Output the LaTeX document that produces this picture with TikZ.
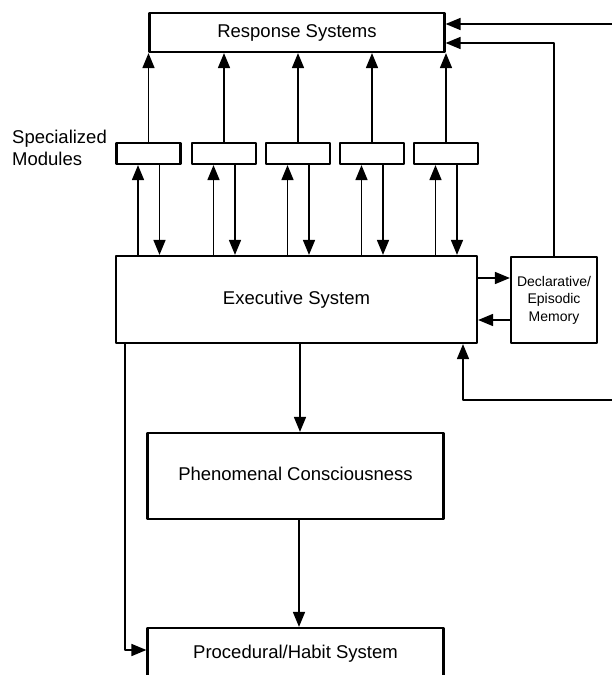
\documentclass[tikz,border=0pt]{standalone}
\usepackage{fontspec}
\setmainfont{Liberation Sans}
\usetikzlibrary{arrows.meta}

\tikzset{
  sysbox/.style={draw, line width=2.2pt, inner sep=0pt, text height=13pt, text depth=4pt,
    font=\fontsize{18.5}{22}\selectfont},
  declbox/.style={draw, line width=2.2pt, inner sep=0pt, align=center,
    font=\fontsize{14}{17.5}\selectfont},
  modbox/.style={draw, line width=2.2pt, minimum width=64pt, minimum height=21pt, inner sep=0pt},
  link/.style={line width=1.6pt, -{Triangle[length=15pt, width=12pt]}}
}

\begin{document}
\begin{tikzpicture}[line cap=round,line join=round, x=1pt,y=-1pt]
\useasboundingbox (0,0) rectangle (612,675);
\clip(0,0) rectangle (612,675);
% boxes
\node [sysbox, minimum width=295pt, minimum height=39pt] (resp) at (297,32.5) {Response Systems};
\node [modbox] (mod1) at (148.5,153.5) {};
\node [modbox] (mod2) at (224,153.5) {};
\node [modbox] (mod3) at (298,153.5) {};
\node [modbox] (mod4) at (372,153.5) {};
\node [modbox] (mod5) at (446,153.5) {};
\node [anchor=west, inner sep=0pt, align=left, font=\fontsize{18.5}{21.5}\selectfont] (modlabel) at (12,148) {Specialized\\Modules};
\node [sysbox, minimum width=361pt, minimum height=87pt] (exec) at (296.5,299.5) {Executive System};
\node [declbox, minimum width=86pt, minimum height=86pt] (decl) at (554,300) {Declarative/\\Episodic\\Memory};
\node [sysbox, minimum width=296pt, minimum height=86pt] (phen) at (295.5,476) {Phenomenal Consciousness};
\node [sysbox, minimum width=296pt, minimum height=52pt] (proc) at (295.5,654) {Procedural/Habit System};
\coordinate (inTop) at (612,24);
\coordinate (inLow) at (612,400);
% modules
\draw [link] (mod1.north) -- (mod1.north |- resp.south);
\draw [link] (mod2.north) -- (mod2.north |- resp.south);
\draw [link] (mod3.north) -- (mod3.north |- resp.south);
\draw [link] (mod4.north) -- (mod4.north |- resp.south);
\draw [link] (mod5.north) -- (mod5.north |- resp.south);
\draw [link] ([xshift=-10.5pt]mod1.south |- exec.north) -- ([xshift=-10.5pt]mod1.south);
\draw [link] ([xshift=-10.5pt]mod2.south |- exec.north) -- ([xshift=-10.5pt]mod2.south);
\draw [link] ([xshift=-10.5pt]mod3.south |- exec.north) -- ([xshift=-10.5pt]mod3.south);
\draw [link] ([xshift=-10.5pt]mod4.south |- exec.north) -- ([xshift=-10.5pt]mod4.south);
\draw [link] ([xshift=-10.5pt]mod5.south |- exec.north) -- ([xshift=-10.5pt]mod5.south);
\draw [link] ([xshift=11pt]mod1.south) -- ([xshift=11pt]mod1.south |- exec.north);
\draw [link] ([xshift=11pt]mod2.south) -- ([xshift=11pt]mod2.south |- exec.north);
\draw [link] ([xshift=11pt]mod3.south) -- ([xshift=11pt]mod3.south |- exec.north);
\draw [link] ([xshift=11pt]mod4.south) -- ([xshift=11pt]mod4.south |- exec.north);
\draw [link] ([xshift=11pt]mod5.south) -- ([xshift=11pt]mod5.south |- exec.north);
% memory
\draw [link] ([yshift=21.5pt]exec.east) -- ([yshift=21.5pt]exec.east -| decl.west);
\draw [link] ([yshift=-20.5pt]exec.east -| decl.west) -- ([yshift=-20.5pt]exec.east);
\draw [link] (decl.north) |- ([yshift=-10.5pt]resp.east);
\draw [link] (inTop) -- (inTop -| resp.east);
\draw [link] (inLow) -| ([xshift=166.5pt]exec.south);
% down the chain
\draw [link] ([xshift=3.5pt]exec.south) -- ([xshift=3.5pt]exec.south |- phen.north);
\draw [link] ([xshift=3.5pt]phen.south) -- ([xshift=3.5pt]phen.south |- proc.north);
\draw [link] ([xshift=-171.5pt]exec.south) |- ([yshift=4pt]proc.west);
\end{tikzpicture}
\end{document}
